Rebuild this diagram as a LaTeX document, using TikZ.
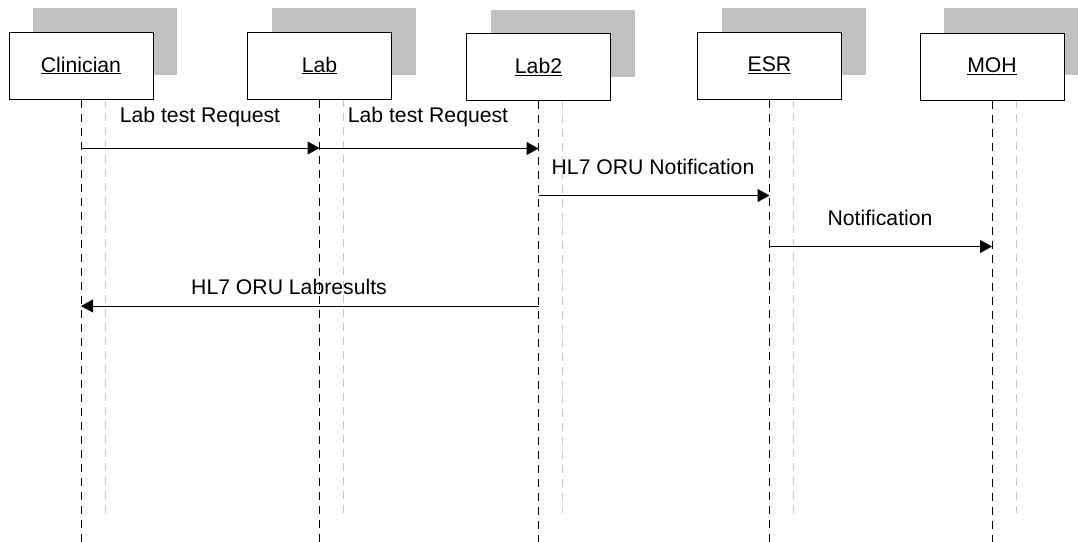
\documentclass[tikz,border=0pt]{standalone}
\usepackage{fontspec}
\setmainfont{Liberation Sans}
\usetikzlibrary{arrows.meta}
\definecolor{shade}{HTML}{C0C0C0}
\definecolor{shadeline}{HTML}{C8C8C8}
\tikzset{
  obj/.style={draw=black, line width=1pt, fill=white, minimum width=144pt, minimum height=67pt, inner sep=0pt, font=\fontsize{21.2}{25}\selectfont},
  objshadow/.style={fill=shade, minimum width=144pt, minimum height=67pt, inner sep=0pt},
  life/.style={black, line width=0.9pt, dash pattern=on 8pt off 6pt},
  lifeshadow/.style={shadeline, line width=0.8pt, dash pattern=on 8pt off 6pt},
  msg/.style={black, line width=1pt, -{Triangle[length=12pt,width=13pt]}},
  lbl/.style={font=\fontsize{21.2}{25}\selectfont, inner sep=0pt}
}
\begin{document}
\begin{tikzpicture}[x=1pt,y=-1pt]
\useasboundingbox (0,0) rectangle (1078,541);
\begin{scope}
\clip (0,0) rectangle (1078,541);
% shadows
\node[objshadow] (clinS) at (105,41) {};
\node[objshadow] (labS) at (343.5,41) {};
\node[objshadow] (lab2S) at (562.5,43.5) {};
\node[objshadow] (esrS) at (793.5,41) {};
\node[objshadow] (mohS) at (1016,41.5) {};
% shadow lifelines
\draw[lifeshadow] (clinS.center |- 0,99) coordinate (cs1) -- (clinS.center |- 0,513) coordinate (cs2);
\draw[lifeshadow] (labS.center |- 0,99) coordinate (ls1) -- (labS.center |- 0,513) coordinate (ls2);
\draw[lifeshadow] (lab2S.center |- 0,101) coordinate (l2s1) -- (lab2S.center |- 0,513) coordinate (l2s2);
\draw[lifeshadow] (esrS.center |- 0,99) coordinate (es1) -- (esrS.center |- 0,513) coordinate (es2);
\draw[lifeshadow] (mohS.center |- 0,100) coordinate (ms1) -- (mohS.center |- 0,513) coordinate (ms2);
% objects
\node[obj] (clin) at (81,65.5) {\underline{Clinician}};
\node[obj] (lab) at (319.5,65.5) {\underline{Lab}};
\node[obj] (lab2) at (538.5,67) {\underline{Lab2}};
\node[obj] (esr) at (769.5,65.5) {\underline{ESR}};
\node[obj] (moh) at (992,66.5) {\underline{MOH}};
% bottom ends of lifelines
\coordinate (clinE) at (clin.south |- 0,545);
\coordinate (labE) at (lab.south |- 0,545);
\coordinate (lab2E) at (lab2.south |- 0,545);
\coordinate (esrE) at (esr.south |- 0,545);
\coordinate (mohE) at (moh.south |- 0,545);
\draw[life] (clin.south) -- (clinE);
\draw[life] (lab.south) -- (labE);
\draw[life] (lab2.south) -- (lab2E);
\draw[life] (esr.south) -- (esrE);
\draw[life] (moh.south) -- (mohE);
% messages
\draw[msg] (clin.south |- 0,148) -- (lab.south |- 0,148);
\node[lbl] (m1) at (200,117) {Lab test Request};
\draw[msg] (lab.south |- 0,148.5) -- (lab2.south |- 0,148.5);
\node[lbl] (m2) at (428,117) {Lab test Request};
\draw[msg] (lab2.south |- 0,195.5) -- (esr.south |- 0,195.5);
\node[lbl] (m3) at (653,167) {HL7 ORU Notification};
\draw[msg] (esr.south |- 0,246.5) -- (moh.south |- 0,246.5);
\node[lbl] (m4) at (880,218) {Notification};
\draw[msg] (lab2.south |- 0,306) -- (clin.south |- 0,306);
\node[lbl] (m5) at (289,287) {HL7 ORU Labresults};
\end{scope}
\end{tikzpicture}
\end{document}
